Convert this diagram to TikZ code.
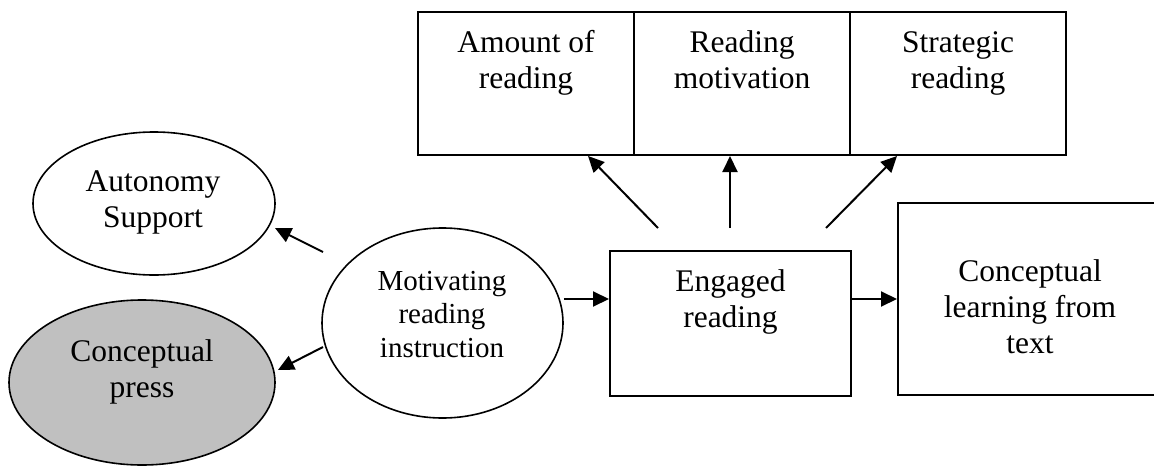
\documentclass[tikz,border=0pt]{standalone}
\usepackage{fontspec}
\setmainfont{Liberation Serif}
\usetikzlibrary{arrows.meta,shapes.geometric}
\definecolor{pressgray}{RGB}{192,192,192}
\begin{document}
\begin{tikzpicture}[x=1pt,y=-1pt,
  cell/.style={draw, line width=2pt, rectangle, inner sep=0pt},
  oval/.style={draw, line width=1.6pt, ellipse, inner sep=0pt},
  lbl/.style={anchor=base, align=center, inner sep=0pt, font=\fontsize{31.5}{36}\selectfont},
  smalllbl/.style={lbl, font=\fontsize{29}{33.5}\selectfont},
  arr/.style={line width=2pt, -{Triangle[length=16pt,width=15pt]}}]
\useasboundingbox (0,0) rectangle (1154,466);

% outcome cells along the top (labels placed by the baseline of their last line)
\node[cell, minimum width=216pt, minimum height=143pt] (amount) at (526,83.5) {};
\node[cell, minimum width=216pt, minimum height=143pt] (motiv) at (742,83.5) {};
\node[cell, minimum width=216pt, minimum height=143pt] (strat) at (958,83.5) {};
\node[lbl] (amounttxt) at (526,88) {Amount of\\reading};
\node[lbl] (motivtxt) at (742,88) {Reading\\motivation};
\node[lbl] (strattxt) at (958,88) {Strategic\\reading};

% instruction side
\node[oval, minimum width=242pt, minimum height=143pt] (auton) at (154,203.5) {};
\node[lbl] (autontxt) at (153,227) {Autonomy\\Support};
\node[oval, fill=pressgray, minimum width=266pt, minimum height=165pt] (press) at (142,382.5) {};
\node[lbl] (presstxt) at (142,397) {Conceptual\\press};
\node[oval, minimum width=241pt, minimum height=190pt] (mri) at (442.5,323) {};
\node[smalllbl] (mritxt) at (442,357) {Motivating\\reading\\instruction};

% engagement and outcome boxes
\node[cell, minimum width=241pt, minimum height=145pt] (eng) at (730.5,323.5) {};
\node[lbl] (engtxt) at (730.5,327) {Engaged\\reading};
\node[cell, minimum width=262pt, minimum height=192pt] (clt) at (1029,299) {};
\node[lbl] (clttxt) at (1030,353) {Conceptual\\learning from\\text};

% connectors
\coordinate (autontail) at (323,252);
\coordinate (autontip) at (275,228);
\coordinate (presstail) at (323,347);
\coordinate (presstip) at (278,370);
\draw[arr] (autontail) -- (autontip);
\draw[arr] (presstail) -- (presstip);
\draw[arr] (mri.east |- clt.west) -- (eng.west |- clt.west);
\draw[arr] (eng.east |- clt.west) -- (clt.west);

\coordinate (up1) at (658,228);
\coordinate (up2) at (730,228);
\coordinate (up3) at (826,228);
\draw[arr] (up1) -- (588,0 |- amount.south);
\draw[arr] (up2) -- (up2 |- motiv.south);
\draw[arr] (up3) -- (897,0 |- strat.south);
\end{tikzpicture}
\end{document}
